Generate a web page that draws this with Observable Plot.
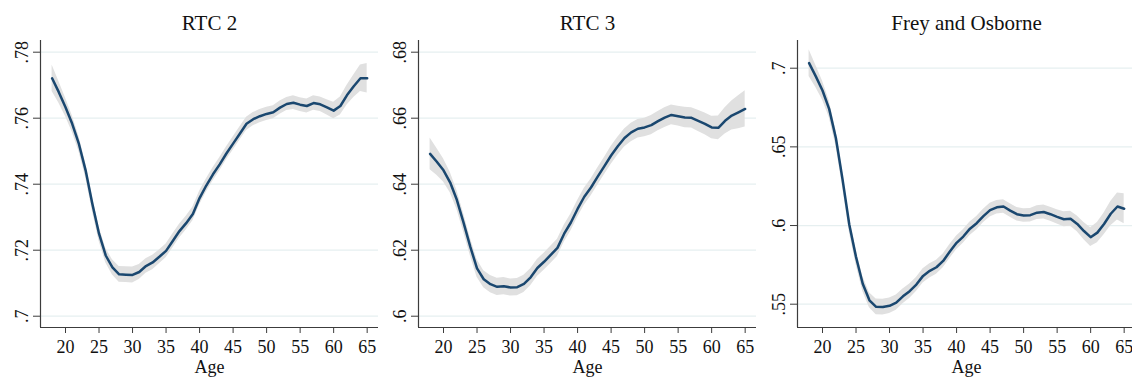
<!DOCTYPE html>
<html>
<head>
<meta charset="utf-8">
<script src="https://cdn.jsdelivr.net/npm/d3@7"></script>
<script src="https://cdn.jsdelivr.net/npm/@observablehq/plot@0.6"></script>
<style>
  html, body { margin: 0; padding: 0; background: #fff; }
  #chart { position: relative; width: 1132px; height: 379px; overflow: hidden; background: #fff; }
  #chart svg { position: absolute; top: 0; font-family: "Liberation Serif", "Times New Roman", serif !important; }
  #chart svg text { font-family: "Liberation Serif", "Times New Roman", serif !important; }
</style>
</head>
<body>
<div id="chart"></div>
<script>
// Age of worker (x axis)
const ages = [18, 19, 20, 21, 22, 23, 24, 25, 26, 27, 28, 29, 30, 31, 32, 33, 34, 35, 36, 37, 38, 39, 40, 41,
              42, 43, 44, 45, 46, 47, 48, 49, 50, 51, 52, 53, 54, 55, 56, 57, 58, 59, 60, 61, 62, 63, 64, 65];

// RTC 2: mean index by age and half-width of its confidence band
const rtc2 = [.7721, .7679, .7633, .7583, .7522, .7442, .7341, .7250, .7184, .7148, .7127, .7126, .7125, .7134,
              .7152, .7163, .7180, .7198, .7228, .7258, .7282, .7310, .7358, .7396, .7430, .7460, .7493, .7523,
              .7553, .7583, .7597, .7606, .7613, .7618, .7632, .7643, .7647, .7641, .7637, .7646, .7642, .7633,
              .7623, .7637, .7670, .7697, .7721, .7721];
const rtc2Ci = [.0040, .0033, .0028, .0025, .0023, .0022, .0022, .0022, .0022, .0023, .0024, .0024, .0024, .0023,
                .0022, .0022, .0021, .0021, .0021, .0021, .0021, .0021, .0021, .0020, .0020, .0020, .0020, .0020,
                .0020, .0020, .0020, .0020, .0020, .0020, .0020, .0020, .0021, .0021, .0021, .0022, .0022, .0023,
                .0025, .0027, .0030, .0034, .0040, .0045];

// RTC 3
const rtc3 = [.6492, .6468, .6442, .6405, .6352, .6283, .6210, .6145, .6112, .6097, .6089, .6091, .6087, .6088,
              .6098, .6118, .6146, .6165, .6186, .6207, .6250, .6284, .6325, .6362, .6390, .6423, .6455, .6487,
              .6515, .6540, .6557, .6568, .6572, .6579, .6591, .6602, .6610, .6606, .6602, .6601, .6592, .6583,
              .6572, .6571, .6592, .6608, .6618, .6628];
const rtc3Ci = [.0048, .0041, .0035, .0031, .0029, .0028, .0027, .0027, .0026, .0026, .0026, .0026, .0026, .0026,
                .0026, .0026, .0026, .0026, .0026, .0026, .0026, .0026, .0026, .0026, .0026, .0026, .0026, .0027,
                .0027, .0027, .0028, .0028, .0028, .0029, .0029, .0030, .0030, .0030, .0031, .0031, .0032, .0033,
                .0034, .0036, .0040, .0044, .0050, .0055];

// Frey and Osborne
const freyOsborne = [.7032, .6948, .6858, .6740, .6555, .6290, .6005, .5800, .5630, .5525, .5483, .5482, .5490, .5510,
                     .5550, .5583, .5625, .5680, .5712, .5735, .5775, .5835, .5890, .5930, .5980, .6015, .6060, .6098,
                     .6116, .6121, .6095, .6072, .6064, .6066, .6082, .6086, .6072, .6055, .6040, .6043, .6010, .5965,
                     .5926, .5955, .6010, .6075, .6121, .6107];
const freyOsborneCi = [.0085, .0070, .0060, .0053, .0050, .0048, .0047, .0047, .0047, .0048, .0050, .0050, .0049, .0048,
                       .0047, .0046, .0045, .0045, .0045, .0045, .0044, .0044, .0044, .0043, .0043, .0043, .0043, .0043,
                       .0043, .0043, .0043, .0043, .0043, .0043, .0044, .0044, .0045, .0046, .0047, .0048, .0050, .0055,
                       .0060, .0064, .0069, .0077, .0086, .0095];

// Axis ticks and their labels
const xTicks = [20, 25, 30, 35, 40, 45, 50, 55, 60, 65];
const rtc2Ticks = [.70, .72, .74, .76, .78];
const rtc2TickLabels = [".7", ".72", ".74", ".76", ".78"];
const rtc3Ticks = [.60, .62, .64, .66, .68];
const rtc3TickLabels = [".6", ".62", ".64", ".66", ".68"];
const foTicks = [.55, .60, .65, .70];
const foTickLabels = [".55", ".6", ".65", ".7"];

const titles = ["RTC 2", "RTC 3", "Frey and Osborne"];

// Layout
const W = 378, H = 379;
const M = {top: 40, right: 0, bottom: 52, left: 40};
const xDomain = [16.27, 66.69];
const FONT = "Liberation Serif, Times New Roman, serif";
const INK = "#3c3c3c";

const panels = [
  {title: titles[0], values: rtc2, ci: rtc2Ci, ticks: rtc2Ticks, labels: rtc2TickLabels, domain: [.69658, .783545], left: 0},
  {title: titles[1], values: rtc3, ci: rtc3Ci, ticks: rtc3Ticks, labels: rtc3TickLabels, domain: [.59658, .683545], left: 378},
  {title: titles[2], values: freyOsborne, ci: freyOsborneCi, ticks: foTicks, labels: foTickLabels, domain: [.53519, .71761], left: 757}
];

const chart = document.getElementById("chart");

for (const p of panels) {
  const rows = ages.map((a, i) => ({age: a, v: p.values[i], lo: p.values[i] - p.ci[i], hi: p.values[i] + p.ci[i]}));
  const svg = Plot.plot({
    width: W,
    height: H,
    marginTop: M.top,
    marginRight: M.right,
    marginBottom: M.bottom,
    marginLeft: M.left,
    style: {fontFamily: FONT, fontSize: "18px", color: "#111", background: "transparent", overflow: "visible"},
    x: {domain: xDomain},
    y: {domain: p.domain},
    marks: [
      Plot.gridY(p.ticks, {stroke: "#e6eff0", strokeOpacity: 1, strokeWidth: 1.3}),
      Plot.areaY(rows, {x: "age", y1: "lo", y2: "hi", fill: "#e0e0e0", curve: "linear"}),
      Plot.lineY(rows, {x: "age", y: "v", stroke: "#1a476f", strokeWidth: 2.5, curve: "linear"}),
      Plot.ruleX([xDomain[0]], {stroke: INK, strokeWidth: 1.2}),
      Plot.ruleY([p.domain[0]], {stroke: INK, strokeWidth: 1.2}),
      Plot.axisY(p.ticks, {tickSize: 7, stroke: INK, tickFormat: () => "", label: null}),
      Plot.text(p.ticks, {
        frameAnchor: "left", y: d => d, text: (d, i) => p.labels[i],
        rotate: -90, dx: -18, textAnchor: "middle", lineAnchor: "middle",
        fontSize: 18, fontFamily: FONT, fill: "#111"
      }),
      Plot.axisX(xTicks, {tickSize: 6, tickPadding: 7, stroke: INK, fontSize: 18, fontFamily: FONT, label: null}),
      Plot.text([p.title], {frameAnchor: "top", text: d => d, dy: -17, lineAnchor: "middle", fontSize: 21, fontFamily: FONT, fill: "#111"}),
      Plot.text(["Age"], {frameAnchor: "bottom", text: d => d, dy: 40, lineAnchor: "middle", fontSize: 18, fontFamily: FONT, fill: "#111"})
    ]
  });
  svg.style.left = p.left + "px";
  chart.appendChild(svg);
}
</script>
</body>
</html>
